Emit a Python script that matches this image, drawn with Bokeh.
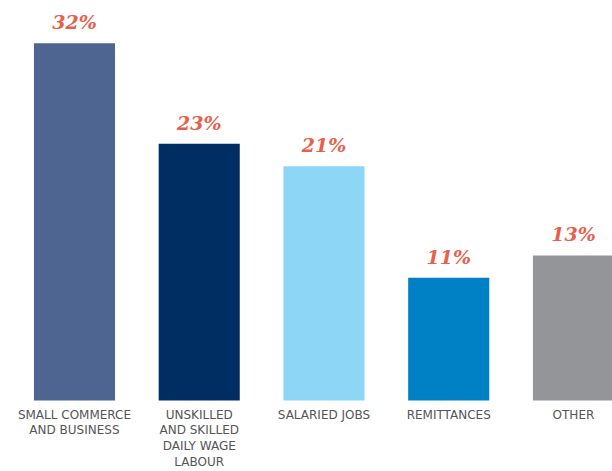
from bokeh.plotting import figure
from bokeh.models import Range1d, ColumnDataSource
from bokeh.core.properties import value
from bokeh.embed import file_html
from bokeh.resources import INLINE

categories = ["SMALL COMMERCE\nAND BUSINESS", "UNSKILLED\nAND SKILLED\nDAILY WAGE\nLABOUR",
              "SALARIED JOBS", "REMITTANCES", "OTHER"]
values = [32, 23, 21, 11, 13]
labels = ["32%", "23%", "21%", "11%", "13%"]
colors = ["#4E6592", "#002E63", "#8ED6F6", "#0081C6", "#939598"]

idx = list(range(len(categories)))
src = ColumnDataSource(dict(x=idx, top=values, label=labels, color=colors,
                            cat=categories, base=[0] * len(idx)))

p = figure(width=612, height=471, output_backend="svg", toolbar_location=None,
           x_range=Range1d(-0.593, 4.313), y_range=Range1d(-6.36, 35.84),
           min_border=0)
p.vbar(x="x", top="top", width=0.65, fill_color="color", line_color=None, source=src)
p.text(x="x", y="top", text="label", source=src, text_align="center", text_baseline="bottom",
       y_offset=-10, text_color="#E8604C", text_font=value("DejaVu Serif"),
       text_font_style="bold italic", text_font_size="19px")
p.text(x="x", y="base", text="cat", source=src, text_align="center", text_baseline="top",
       y_offset=7, text_color="#555555", text_font=value("DejaVu Sans"),
       text_font_size="12px", text_line_height=1.12)

p.axis.visible = False
p.grid.visible = False
p.outline_line_color = None

open("out.html", "w").write(file_html(p, INLINE))
